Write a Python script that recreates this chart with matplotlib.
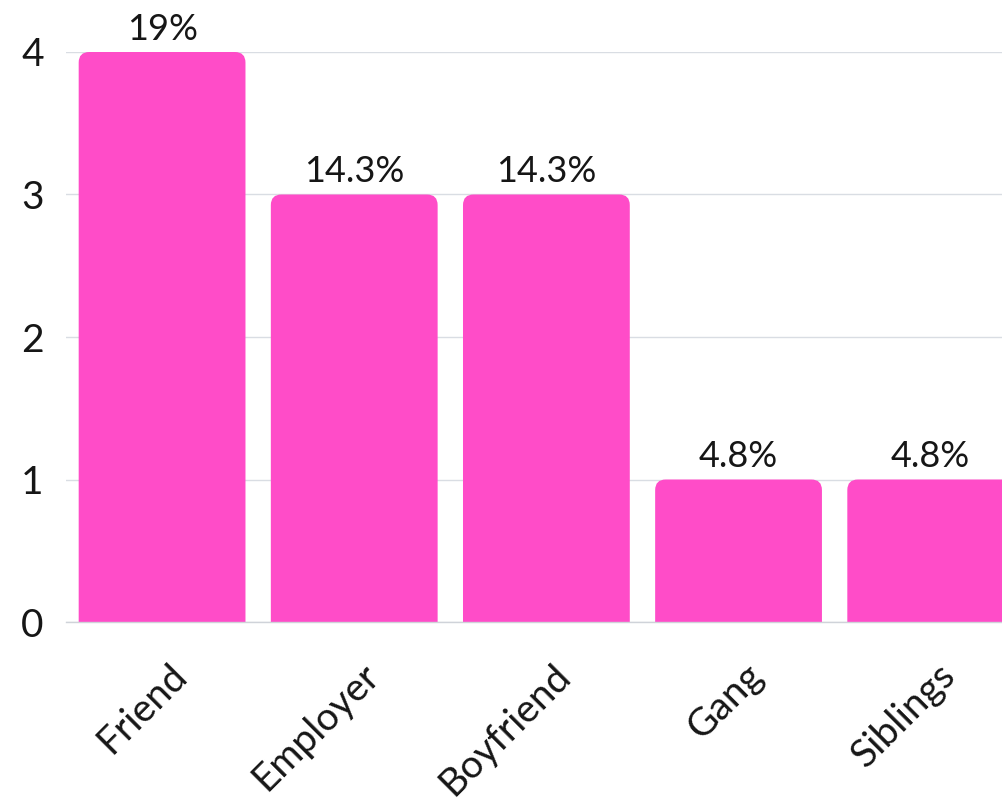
import matplotlib
matplotlib.use("Agg")
import matplotlib.pyplot as plt
from matplotlib.patches import FancyBboxPatch
import matplotlib.transforms as mtransforms

categories = ["Friend", "Employer", "Boyfriend", "Gang", "Siblings"]
counts = [4, 3, 3, 1, 1]
pct_labels = ["19%", "14.3%", "14.3%", "4.8%", "4.8%"]
yticks = [0, 1, 2, 3, 4]

plt.rcParams['font.family'] = ['Lato', 'DejaVu Sans']
BAR = "#FF4CC8"
TXT = "#161616"

fig = plt.figure(figsize=(10.02, 8.05), dpi=100)
W, H = 1002, 805
ax = fig.add_axes([66 / W, 183 / H, (W - 66) / W, 570 / H])
ax.set_xlim(-0.5, 4.371)
ax.set_ylim(0, 4)

bars = ax.bar(range(len(categories)), counts, width=0.868, color=BAR, zorder=2)
px_per_x = 936 / 4.871
px_per_y = 570 / 4
for b in bars:
    x, y, w, h = b.get_x(), b.get_y(), b.get_width(), b.get_height()
    b.set_visible(False)
    ext = 0.3
    fb = FancyBboxPatch((x, y - ext), w, h + ext,
                        boxstyle="round,pad=0,rounding_size=0.055",
                        mutation_aspect=px_per_x / px_per_y,
                        facecolor=BAR, edgecolor="none", zorder=2)
    ax.add_patch(fb)
    fb.set_clip_path(ax.patch)

for i, (c, lab) in enumerate(zip(counts, pct_labels)):
    ax.text(i, c + 0.045, lab, ha="center", va="bottom", fontsize=26,
            color=TXT, clip_on=False)

ax.set_yticks(yticks)
ax.set_yticklabels([str(t) for t in yticks], fontsize=28, color=TXT)
ax.set_xticks(range(len(categories)))
ax.set_xticklabels([])

# rotated category labels, offset below the baseline
offset = mtransforms.ScaledTranslation(0.06, -0.35, fig.dpi_scale_trans)
xtrans = mtransforms.blended_transform_factory(ax.transData, ax.transAxes) + offset
for i, cat in enumerate(categories):
    ax.text(i, 0, cat, transform=xtrans, rotation=45, ha="right", va="top",
            rotation_mode="anchor", fontsize=28, color=TXT, clip_on=False)

ax.tick_params(axis="both", length=0)
ax.tick_params(axis="y", pad=16)
ax.grid(axis="y", color="#d9dde3", linewidth=1, zorder=0)
ax.set_axisbelow(True)
for s in ["top", "right", "left"]:
    ax.spines[s].set_visible(False)
ax.spines["bottom"].set_color("#cfd3d9")
ax.spines["bottom"].set_linewidth(1)

fig.savefig("out.png", dpi=100)
